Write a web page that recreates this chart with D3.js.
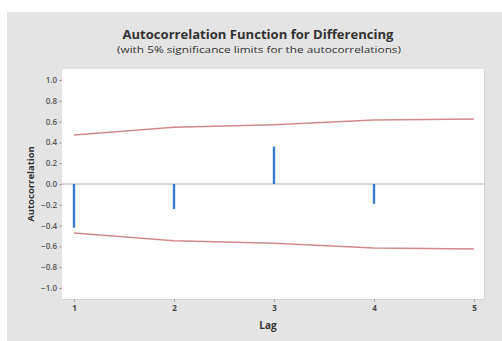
<!DOCTYPE html>
<html><head><meta charset="utf-8">
<script src="https://cdn.jsdelivr.net/npm/d3@7"></script>
<style>body{margin:0;background:#fff}svg{display:block}text{font-family:"Open Sans",sans-serif}</style>
</head><body><svg id="c" width="502" height="341"></svg>
<script>
const lags = [1, 2, 3, 4, 5];
const acf = [-0.42, -0.24, 0.36, -0.19];
const upperLimit = [0.47, 0.545, 0.57, 0.615, 0.625];
const lowerLimit = [-0.47, -0.545, -0.57, -0.615, -0.625];
const yTicks = [1.0, 0.8, 0.6, 0.4, 0.2, 0.0, -0.2, -0.4, -0.6, -0.8, -1.0];
const xTicks = [1, 2, 3, 4, 5];

const svg = d3.select("#c");
svg.append("rect").attr("x", 7).attr("y", 12).attr("width", 495).attr("height", 329).attr("fill", "#e4e4e4");

const L = 62, T = 69, R = 484, B = 299;
svg.append("rect").attr("x", L + 1).attr("y", T + 1).attr("width", R - L).attr("height", B - T).attr("fill", "#d4d4d4");
svg.append("rect").attr("x", L).attr("y", T).attr("width", R - L).attr("height", B - T).attr("fill", "#fff");

const x = d3.scaleLinear().domain([1, 5]).range([74, 474]);
const y = d3.scaleLinear().domain([-1, 1]).range([288, 80]);

svg.append("text").attr("x", 258).attr("y", 39).attr("text-anchor", "middle")
  .attr("font-size", 13).attr("font-weight", "bold").attr("fill", "#333")
  .attr("textLength", 271).attr("lengthAdjust", "spacingAndGlyphs")
  .text("Autocorrelation Function for Differencing");
svg.append("text").attr("x", 259).attr("y", 53).attr("text-anchor", "middle")
  .attr("font-size", 9.5).attr("fill", "#333")
  .attr("textLength", 284).attr("lengthAdjust", "spacingAndGlyphs")
  .text("(with 5% significance limits for the autocorrelations)");

// zero line
svg.append("line").attr("x1", L).attr("x2", R).attr("y1", y(0)).attr("y2", y(0))
  .attr("stroke", "#d9d9d9").attr("stroke-width", 2);

// axes
const yAxis = d3.axisLeft(y).tickValues(yTicks).tickFormat(d3.format(".1f")).tickSize(3).tickPadding(2);
const gy = svg.append("g").attr("transform", `translate(${L},0)`).call(yAxis);
gy.select(".domain").remove();
gy.selectAll("line").attr("stroke", "#aaa");
gy.selectAll("text").attr("font-size", 8).attr("fill", "#555").attr("font-weight", "600");

const xAxis = d3.axisBottom(x).tickValues(xTicks).tickFormat(d3.format("d")).tickSize(3).tickPadding(3);
const gx = svg.append("g").attr("transform", `translate(0,${B})`).call(xAxis);
gx.select(".domain").remove();
gx.selectAll("line").attr("stroke", "#aaa");
gx.selectAll("text").attr("font-size", 8).attr("fill", "#444").attr("font-weight", "bold");

// limits
const line = d3.line().x((d, i) => x(lags[i])).y(d => y(d));
svg.append("path").attr("d", line(upperLimit)).attr("fill", "none").attr("stroke", "#d28a8a").attr("stroke-width", 1.5);
svg.append("path").attr("d", line(lowerLimit)).attr("fill", "none").attr("stroke", "#d28a8a").attr("stroke-width", 1.5);

// bars
svg.selectAll(".bar").data(acf).join("line").attr("class", "bar")
  .attr("x1", (d, i) => x(lags[i])).attr("x2", (d, i) => x(lags[i]))
  .attr("y1", y(0)).attr("y2", d => y(d))
  .attr("stroke", "#3d7cc9").attr("stroke-width", 2.4);

svg.append("text").attr("transform", "translate(34,184) rotate(-90)").attr("text-anchor", "middle")
  .attr("font-size", 9.5).attr("font-weight", "bold").attr("fill", "#333").text("Autocorrelation");
svg.append("text").attr("x", 268).attr("y", 329).attr("text-anchor", "middle")
  .attr("font-size", 10).attr("font-weight", "bold").attr("fill", "#333").text("Lag");
</script></body></html>
